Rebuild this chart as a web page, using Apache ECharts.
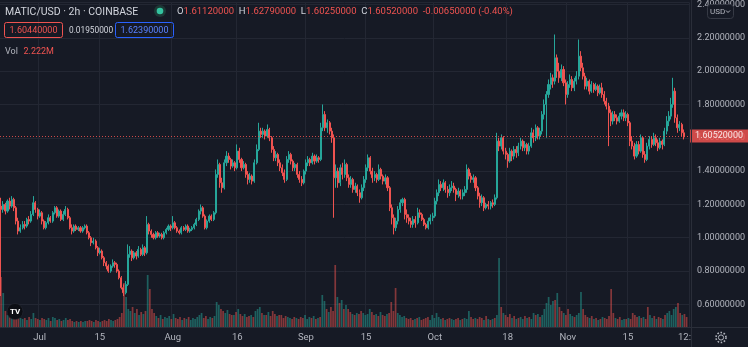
<!DOCTYPE html>
<html><head><meta charset="utf-8">
<script src="https://cdn.jsdelivr.net/npm/echarts/dist/echarts.min.js"></script>
<style>html,body{margin:0;padding:0;background:#161a25;}#c{width:748px;height:347px;}</style>
</head><body><div id="c"></div>
<script>
// ---- data (12h candles from 2021-06-22 00:00 UTC) ----
const startUTC = Date.UTC(2021, 5, 22);
const tickIndex = [18, 46, 80, 110, 142, 170, 202, 236, 264, 292];
const tickLabels = ['Jul', '15', 'Aug', '16', 'Sep', '15', 'Oct', '18', 'Nov', '15'];
const lastPrice = 1.6052;

const opens = [
1.19,1.17,1.20,1.16,1.22,1.19,1.23,1.18,1.10,1.04,
1.06,1.08,1.07,1.11,1.10,1.14,1.21,1.17,1.13,1.15,
1.10,1.06,1.09,1.12,1.10,1.15,1.18,1.13,1.16,1.11,
1.14,1.17,1.12,1.06,1.04,1.07,1.05,1.06,1.04,1.06,
1.07,1.03,1.00,0.97,0.98,0.94,0.91,0.92,0.88,0.85,
0.83,0.80,0.83,0.85,0.84,0.80,0.76,0.70,0.67,0.72,
0.90,0.92,0.88,0.91,0.89,0.93,0.90,0.94,0.91,1.08,
1.04,1.02,1.00,1.03,1.01,1.02,1.00,1.03,1.05,1.07,
1.06,1.09,1.06,1.04,1.03,1.06,1.05,1.07,1.04,1.05,
1.06,1.08,1.11,1.16,1.18,1.13,1.06,1.10,1.13,1.11,
1.15,1.38,1.44,1.33,1.30,1.45,1.49,1.47,1.43,1.45,
1.42,1.52,1.47,1.42,1.44,1.38,1.35,1.37,1.34,1.45,
1.53,1.64,1.62,1.64,1.61,1.65,1.60,1.53,1.48,1.50,
1.45,1.42,1.39,1.35,1.47,1.50,1.46,1.42,1.44,1.38,
1.35,1.33,1.40,1.45,1.47,1.45,1.49,1.46,1.48,1.47,
1.66,1.74,1.66,1.69,1.64,1.60,1.36,1.40,1.33,1.42,
1.38,1.44,1.36,1.32,1.35,1.29,1.31,1.27,1.24,1.30,
1.35,1.42,1.48,1.40,1.36,1.38,1.35,1.41,1.37,1.34,
1.36,1.30,1.18,1.12,1.06,1.10,1.17,1.21,1.23,1.14,
1.12,1.10,1.08,1.11,1.09,1.15,1.14,1.11,1.08,1.06,
1.10,1.12,1.13,1.22,1.27,1.32,1.30,1.33,1.29,1.27,
1.30,1.31,1.29,1.26,1.28,1.25,1.27,1.29,1.41,1.37,
1.35,1.36,1.30,1.25,1.21,1.24,1.18,1.20,1.19,1.21,
1.20,1.24,1.58,1.55,1.60,1.52,1.50,1.46,1.52,1.49,
1.53,1.51,1.55,1.58,1.54,1.56,1.52,1.55,1.63,1.60,
1.66,1.61,1.64,1.74,1.80,1.86,1.92,1.96,1.94,2.08,
2.00,1.96,2.01,1.93,1.86,1.92,1.95,1.90,1.94,1.97,
2.09,2.02,1.97,1.91,1.94,1.88,1.92,1.89,1.91,1.87,
1.90,1.86,1.82,1.79,1.75,1.70,1.74,1.72,1.70,1.73,
1.75,1.72,1.74,1.69,1.58,1.55,1.49,1.56,1.52,1.60,
1.50,1.47,1.55,1.59,1.56,1.60,1.57,1.54,1.58,1.56,
1.64,1.70,1.73,1.80,1.88,1.72,1.66,1.68,1.63
];
const closes = [
1.17,1.20,1.16,1.22,1.19,1.23,1.18,1.10,1.04,1.06,
1.08,1.07,1.11,1.10,1.14,1.21,1.17,1.13,1.15,1.10,
1.06,1.09,1.12,1.10,1.15,1.18,1.13,1.16,1.11,1.14,
1.17,1.12,1.06,1.04,1.07,1.05,1.06,1.04,1.06,1.07,
1.03,1.00,0.97,0.98,0.94,0.91,0.92,0.88,0.85,0.83,
0.80,0.83,0.85,0.84,0.80,0.76,0.70,0.67,0.72,0.90,
0.92,0.88,0.91,0.89,0.93,0.90,0.94,0.91,1.08,1.04,
1.02,1.00,1.03,1.01,1.02,1.00,1.03,1.05,1.07,1.06,
1.09,1.06,1.04,1.03,1.06,1.05,1.07,1.04,1.05,1.06,
1.08,1.11,1.16,1.18,1.13,1.06,1.10,1.13,1.11,1.15,
1.38,1.44,1.33,1.30,1.45,1.49,1.47,1.43,1.45,1.42,
1.52,1.47,1.42,1.44,1.38,1.35,1.37,1.34,1.45,1.53,
1.64,1.62,1.64,1.61,1.65,1.60,1.53,1.48,1.50,1.45,
1.42,1.39,1.35,1.47,1.50,1.46,1.42,1.44,1.38,1.35,
1.33,1.40,1.45,1.47,1.45,1.49,1.46,1.48,1.47,1.66,
1.74,1.66,1.69,1.64,1.60,1.36,1.40,1.33,1.42,1.38,
1.44,1.36,1.32,1.35,1.29,1.31,1.27,1.24,1.30,1.35,
1.42,1.48,1.40,1.36,1.38,1.35,1.41,1.37,1.34,1.36,
1.30,1.18,1.12,1.06,1.10,1.17,1.21,1.23,1.14,1.12,
1.10,1.08,1.11,1.09,1.15,1.14,1.11,1.08,1.06,1.10,
1.12,1.13,1.22,1.27,1.32,1.30,1.33,1.29,1.27,1.30,
1.31,1.29,1.26,1.28,1.25,1.27,1.29,1.41,1.37,1.35,
1.36,1.30,1.25,1.21,1.24,1.18,1.20,1.19,1.21,1.20,
1.24,1.58,1.55,1.60,1.52,1.50,1.46,1.52,1.49,1.53,
1.51,1.55,1.58,1.54,1.56,1.52,1.55,1.63,1.60,1.66,
1.61,1.64,1.74,1.80,1.86,1.92,1.96,1.94,2.08,2.00,
1.96,2.01,1.93,1.86,1.92,1.95,1.90,1.94,1.97,2.09,
2.02,1.97,1.91,1.94,1.88,1.92,1.89,1.91,1.87,1.90,
1.86,1.82,1.79,1.75,1.70,1.74,1.72,1.70,1.73,1.75,
1.72,1.74,1.69,1.58,1.55,1.49,1.56,1.52,1.60,1.50,
1.47,1.55,1.59,1.56,1.60,1.57,1.54,1.58,1.56,1.64,
1.70,1.73,1.80,1.88,1.72,1.66,1.68,1.63,1.6052
];
const highs = [
1.24,1.22,1.21,1.23,1.24,1.25,1.24,1.19,1.12,1.08,
1.10,1.10,1.12,1.13,1.16,1.25,1.22,1.18,1.17,1.16,
1.11,1.10,1.14,1.13,1.16,1.19,1.19,1.17,1.17,1.16,
1.19,1.18,1.13,1.08,1.08,1.08,1.07,1.07,1.07,1.08,
1.08,1.04,1.01,1.00,0.99,0.95,0.94,0.93,0.89,0.86,
0.84,0.84,0.87,0.86,0.85,0.81,0.77,0.72,0.74,0.96,
0.95,0.93,0.92,0.92,0.95,0.94,0.96,0.95,1.13,1.09,
1.05,1.03,1.04,1.04,1.03,1.03,1.04,1.06,1.08,1.08,
1.13,1.10,1.07,1.05,1.07,1.07,1.08,1.08,1.06,1.07,
1.09,1.12,1.17,1.20,1.19,1.14,1.11,1.14,1.14,1.16,
1.41,1.47,1.45,1.36,1.47,1.52,1.51,1.48,1.47,1.46,
1.56,1.54,1.48,1.46,1.45,1.40,1.39,1.38,1.47,1.56,
1.69,1.66,1.66,1.65,1.68,1.66,1.61,1.55,1.52,1.51,
1.47,1.44,1.41,1.49,1.52,1.51,1.47,1.45,1.45,1.40,
1.37,1.41,1.47,1.49,1.48,1.51,1.50,1.50,1.49,1.69,
1.80,1.76,1.71,1.70,1.66,1.62,1.44,1.42,1.44,1.45,
1.47,1.45,1.38,1.37,1.36,1.33,1.32,1.29,1.32,1.37,
1.44,1.50,1.49,1.42,1.40,1.39,1.44,1.42,1.38,1.38,
1.37,1.31,1.20,1.14,1.12,1.19,1.23,1.24,1.24,1.17,
1.14,1.12,1.13,1.13,1.18,1.17,1.15,1.12,1.09,1.12,
1.14,1.15,1.24,1.29,1.35,1.34,1.35,1.34,1.31,1.32,
1.34,1.33,1.30,1.30,1.29,1.29,1.31,1.44,1.42,1.39,
1.38,1.37,1.31,1.27,1.26,1.25,1.21,1.22,1.22,1.23,
1.26,1.63,1.60,1.62,1.61,1.54,1.51,1.54,1.53,1.55,
1.55,1.57,1.60,1.59,1.58,1.57,1.57,1.66,1.65,1.68,
1.67,1.66,1.76,1.83,1.88,1.95,1.99,1.98,2.22,2.10,
2.05,2.04,2.03,1.95,1.94,1.98,1.97,1.96,2.00,2.19,
2.12,2.05,1.99,1.96,1.95,1.94,1.93,1.93,1.92,1.92,
1.93,1.88,1.84,1.81,1.77,1.76,1.76,1.74,1.75,1.77,
1.77,1.76,1.75,1.70,1.61,1.57,1.58,1.58,1.62,1.61,
1.52,1.57,1.61,1.61,1.63,1.62,1.59,1.60,1.59,1.66,
1.73,1.76,1.84,1.96,1.90,1.74,1.70,1.69,1.65
];
const lows = [
0.65,1.15,1.14,1.15,1.17,1.18,1.16,1.08,1.02,1.03,
1.05,1.05,1.06,1.08,1.09,1.13,1.15,1.11,1.12,1.08,
1.05,1.05,1.08,1.09,1.09,1.14,1.12,1.12,1.10,1.10,
1.13,1.11,1.05,1.02,1.03,1.04,1.04,1.03,1.03,1.05,
1.02,0.99,0.95,0.96,0.93,0.89,0.90,0.87,0.83,0.81,
0.79,0.79,0.82,0.82,0.79,0.75,0.69,0.65,0.66,0.71,
0.88,0.86,0.87,0.87,0.88,0.89,0.89,0.89,0.90,1.02,
1.00,0.99,0.99,1.00,1.00,0.99,0.99,1.02,1.04,1.04,
1.05,1.05,1.03,1.02,1.02,1.04,1.04,1.03,1.03,1.04,
1.05,1.07,1.10,1.14,1.12,1.05,1.05,1.09,1.10,1.10,
1.14,1.36,1.30,1.27,1.29,1.43,1.45,1.41,1.42,1.40,
1.41,1.45,1.40,1.41,1.36,1.32,1.33,1.32,1.33,1.44,
1.52,1.60,1.60,1.59,1.60,1.58,1.51,1.46,1.46,1.43,
1.40,1.37,1.33,1.34,1.45,1.44,1.40,1.40,1.36,1.33,
1.31,1.32,1.38,1.43,1.43,1.44,1.44,1.45,1.45,1.46,
1.64,1.64,1.63,1.62,1.57,1.12,1.30,1.30,1.31,1.35,
1.36,1.34,1.30,1.30,1.27,1.27,1.25,1.21,1.23,1.28,
1.33,1.40,1.38,1.33,1.34,1.33,1.34,1.35,1.32,1.32,
1.28,1.16,1.08,1.02,1.04,1.08,1.15,1.19,1.11,1.09,
1.08,1.06,1.06,1.06,1.08,1.12,1.10,1.07,1.05,1.05,
1.08,1.10,1.12,1.20,1.25,1.28,1.28,1.27,1.24,1.25,
1.28,1.27,1.22,1.24,1.23,1.23,1.25,1.27,1.35,1.33,
1.33,1.28,1.23,1.18,1.19,1.16,1.17,1.17,1.17,1.18,
1.19,1.23,1.52,1.53,1.50,1.47,1.42,1.45,1.46,1.47,
1.48,1.49,1.53,1.52,1.52,1.50,1.50,1.54,1.57,1.58,
1.59,1.59,1.62,1.71,1.60,1.84,1.89,1.90,1.92,1.96,
1.93,1.94,1.91,1.80,1.84,1.90,1.88,1.88,1.92,1.95,
2.00,1.95,1.89,1.89,1.86,1.87,1.87,1.88,1.85,1.86,
1.84,1.80,1.77,1.55,1.67,1.68,1.70,1.68,1.69,1.71,
1.70,1.70,1.67,1.55,1.53,1.47,1.48,1.50,1.51,1.48,
1.45,1.46,1.53,1.54,1.55,1.55,1.52,1.53,1.53,1.55,
1.62,1.67,1.71,1.78,1.69,1.63,1.64,1.61,1.59
];
const volumes = [
50,34,16,12,11,10,9,12,11,9,
8,9,7,10,8,14,9,8,7,9,
8,7,9,6,10,9,7,8,6,7,
9,7,8,6,5,6,5,6,5,6,
6,7,6,5,7,6,5,6,7,6,
8,7,6,7,8,10,14,44,30,18,
16,20,14,18,12,15,13,16,52,38,
18,14,11,9,12,8,10,9,11,8,
13,9,8,10,7,9,8,10,7,9,
8,10,12,14,9,11,8,10,9,11,
25,22,18,16,14,17,13,12,12,15,
18,13,11,13,10,11,12,10,16,18,
20,14,12,12,15,11,16,13,11,12,
12,9,11,10,9,8,10,9,8,10,
9,12,8,10,9,11,8,9,10,32,
26,18,15,20,16,62,30,24,27,18,
22,18,15,13,12,14,13,16,14,12,
13,18,15,12,13,11,15,12,11,13,
14,25,16,39,14,12,10,11,9,8,
9,7,8,9,10,7,8,9,10,7,
12,9,14,10,8,9,7,8,9,8,
7,8,9,7,8,9,8,16,10,8,
9,8,10,9,7,11,8,7,8,9,
12,69,20,14,12,10,13,9,11,8,
9,10,8,11,9,10,8,14,12,13,
10,12,18,24,30,22,26,27,34,20,
16,14,12,18,13,11,10,12,14,35,
18,12,10,9,11,8,9,7,8,10,
9,8,11,38,14,9,8,10,7,8,
8,9,8,14,12,10,11,9,10,8,
20,12,9,11,8,10,9,8,12,14,
16,12,18,20,24,14,12,13,10
];

const n = closes.length;
[opens, highs, lows, volumes].forEach((a, k) => { if (a.length !== n) throw new Error('length mismatch ' + k + ': ' + a.length + ' vs ' + n); });

// categories: 12h steps, two extra empty slots at the right edge
const categories = [];
for (let i = 0; i < n + 2; i++) {
  const d = new Date(startUTC + i * 12 * 3600 * 1000);
  categories.push(d.toISOString().slice(0, 13));
}
const tickMap = {};
tickIndex.forEach((ix, k) => { tickMap[ix] = tickLabels[k]; });
const showTick = (idx) => tickMap[idx] !== undefined;

const UP = '#26a69a', DOWN = '#ef5350';
const candleData = opens.map((o, i) => [o, closes[i], lows[i], highs[i]]);
const volData = volumes.map((v, i) => ({
  value: v,
  itemStyle: { color: closes[i] >= opens[i] ? 'rgba(38,166,154,0.5)' : 'rgba(239,83,80,0.5)' }
}));

const FONT = 'Roboto, "Noto Sans", sans-serif';
const GRID = '#232733';
const chart = echarts.init(document.getElementById('c'), null, { renderer: 'canvas' });
chart.setOption({
  backgroundColor: '#161a25',
  animation: false,
  textStyle: { fontFamily: FONT },
  grid: [
    { left: 0, right: 56, top: 0, bottom: 20 },
    { left: 0, right: 56, bottom: 20, height: 100 }
  ],
  xAxis: [
    {
      type: 'category', gridIndex: 0, data: categories, boundaryGap: true,
      axisLine: { show: true, lineStyle: { color: '#2a2e39' } },
      axisTick: { show: false },
      axisLabel: { interval: (i) => showTick(i), formatter: (v, i) => tickMap[i] || '', color: '#b2b5be', fontSize: 9.5, margin: 6, fontFamily: FONT },
      splitLine: { show: true, interval: (i) => showTick(i), lineStyle: { color: GRID, width: 1 } }
    },
    { type: 'category', gridIndex: 1, data: categories, boundaryGap: true, show: false }
  ],
  yAxis: [
    {
      type: 'value', gridIndex: 0, position: 'right', min: 0.4643, max: 2.413, splitNumber: 10, scale: true,
      axisLine: { show: false }, axisTick: { show: false },
      axisLabel: { color: '#b2b5be', fontSize: 9, margin: 8, fontFamily: FONT, showMinLabel: false, showMaxLabel: false,
        formatter: (v) => v.toFixed(8) },
      splitLine: { show: true, lineStyle: { color: GRID, width: 1 } }
    },
    { type: 'value', gridIndex: 1, min: 0, max: 100, show: false }
  ],
  series: [
    {
      type: 'bar', name: 'Vol', xAxisIndex: 1, yAxisIndex: 1, data: volData,
      barCategoryGap: '20%', z: 1
    },
    {
      type: 'candlestick', name: 'MATIC/USD', xAxisIndex: 0, yAxisIndex: 0, data: candleData,
      barWidth: '72%', z: 3,
      itemStyle: { color: UP, color0: DOWN, borderColor: UP, borderColor0: DOWN, borderWidth: 1 },
      markLine: {
        silent: true, symbol: ['none', 'none'], animation: false,
        data: [{ yAxis: lastPrice }],
        lineStyle: { color: DOWN, type: [1, 2], width: 1, opacity: 0.85 },
        label: { show: true, position: 'end', distance: 1, formatter: () => lastPrice.toFixed(8),
          backgroundColor: DOWN, color: '#ffffff', fontSize: 9, fontFamily: FONT, padding: [2, 5, 2, 5] }
      }
    }
  ],
  graphic: [
    { type: 'line', z: 50, shape: { x1: 691.5, y1: 0, x2: 691.5, y2: 347 }, style: { stroke: '#2a2e39', lineWidth: 1 } },
    { type: 'line', z: 50, shape: { x1: 0, y1: 327.5, x2: 748, y2: 327.5 }, style: { stroke: '#2a2e39', lineWidth: 1 } },
    { type: 'text', z: 60, x: 5, y: 12, style: { text: 'MATIC/USD · 2h · COINBASE', fill: '#d1d4dc', font: '10.5px ' + FONT, verticalAlign: 'middle' } },
    { type: 'circle', z: 60, shape: { cx: 160, cy: 11, r: 6 }, style: { fill: '#1c3936' } },
    { type: 'circle', z: 61, shape: { cx: 160, cy: 11, r: 3.3 }, style: { fill: '#34c3a0' } },
    { type: 'text', z: 60, x: 177, y: 12, style: {
        text: '{l|O}{v|1.61120000}  {l|H}{v|1.62790000}  {l|L}{v|1.60250000}  {l|C}{v|1.60520000}  {v|-0.00650000 (-0.40%)}',
        font: '9.5px ' + FONT, verticalAlign: 'middle',
        rich: { l: { fill: '#d1d4dc', color: '#d1d4dc', fontSize: 9.5, fontFamily: FONT }, v: { fill: '#ef5350', color: '#ef5350', fontSize: 9.5, fontFamily: FONT } }
    } },
    { type: 'rect', z: 60, shape: { x: 4.5, y: 22.5, width: 58, height: 15, r: 2 }, style: { fill: 'none', stroke: '#ef5350', lineWidth: 1 } },
    { type: 'text', z: 60, x: 33.5, y: 30.5, style: { text: '1.60440000', fill: '#ef5350', font: '9px ' + FONT, align: 'center', verticalAlign: 'middle' } },
    { type: 'text', z: 60, x: 69, y: 30.5, style: { text: '0.01950000', fill: '#d1d4dc', font: '8.3px ' + FONT, verticalAlign: 'middle' } },
    { type: 'rect', z: 60, shape: { x: 115.5, y: 22.5, width: 58, height: 15, r: 2 }, style: { fill: 'none', stroke: '#2962ff', lineWidth: 1 } },
    { type: 'text', z: 60, x: 144.5, y: 30.5, style: { text: '1.62390000', fill: '#5a82ff', font: '9px ' + FONT, align: 'center', verticalAlign: 'middle' } },
    { type: 'text', z: 60, x: 5, y: 52, style: { text: 'Vol', fill: '#b2b5be', font: '9px ' + FONT, verticalAlign: 'middle' } },
    { type: 'text', z: 60, x: 23.5, y: 52, style: { text: '2.222M', fill: '#ef5350', font: '9px ' + FONT, verticalAlign: 'middle' } },
    { type: 'rect', z: 60, shape: { x: 707.5, y: 4.5, width: 26, height: 14, r: 3 }, style: { fill: '#161a25', stroke: '#363a45', lineWidth: 1 } },
    { type: 'text', z: 61, x: 710, y: 11.5, style: { text: 'USD', fill: '#b2b5be', font: '8px ' + FONT, verticalAlign: 'middle' } },
    { type: 'polyline', z: 61, shape: { points: [[726, 10.5], [728, 12.5], [730, 10.5]] }, style: { stroke: '#b2b5be', lineWidth: 1, fill: 'none' } },
    { type: 'text', z: 60, x: 678, y: 337.5, style: { text: '12:', fill: '#b2b5be', font: '9.5px ' + FONT, verticalAlign: 'middle' } },
    { type: 'rect', z: 59, shape: { x: 692, y: 328, width: 56, height: 19 }, style: { fill: '#161a25' } },
    { type: 'circle', z: 60, shape: { cx: 721, cy: 337.5, r: 5 }, style: { fill: 'none', stroke: '#b2b5be', lineWidth: 1.6, lineDash: [1.6, 1.6] } },
    { type: 'circle', z: 60, shape: { cx: 721, cy: 337.5, r: 2.6 }, style: { fill: 'none', stroke: '#b2b5be', lineWidth: 1 } },
    { type: 'circle', z: 60, shape: { cx: 15, cy: 311.5, r: 8 }, style: { fill: '#0c0e14', stroke: '#2a2e39', lineWidth: 0.5 } },
    { type: 'text', z: 61, x: 15, y: 311.5, style: { text: 'TV', fill: '#ffffff', font: 'bold 8px ' + FONT, align: 'center', verticalAlign: 'middle' } }
  ]
});
</script>
</body></html>
